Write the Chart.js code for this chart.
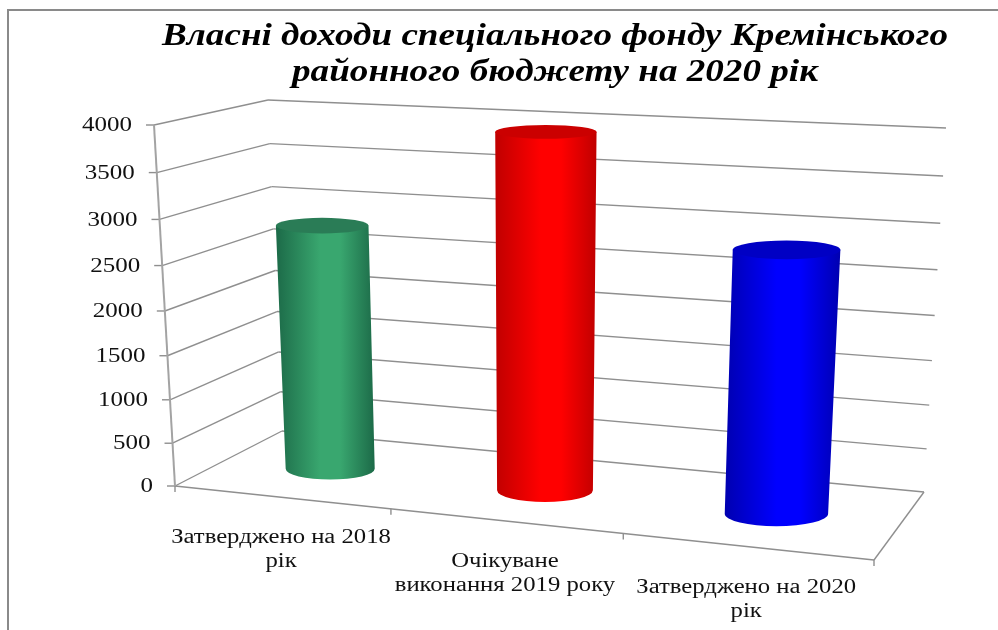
<!DOCTYPE html>
<html>
<head>
<meta charset="utf-8">
<script src="https://cdn.jsdelivr.net/npm/chart.js@4"></script>
<style>
  html, body { margin: 0; padding: 0; background: #fff; overflow: hidden; }
  canvas { display: block; }
</style>
</head>
<body>
<canvas id="budget-chart" width="998" height="630"></canvas>
<script>
const titleLines = ['Власні доходи спеціального фонду Кремінського', 'районного бюджету на 2020 рік'];
const categories = [
  ['Затверджено на 2018', 'рік'],
  ['Очікуване', 'виконання 2019 року'],
  ['Затверджено на 2020', 'рік']
];
const values = [2820, 3960, 2870];
const valueTicks = [0, 500, 1000, 1500, 2000, 2500, 3000, 3500, 4000];

const sideLight = ['#39a76f', '#ff0000', '#0000ff'];
const sideEdge = ['#1c6a48', '#c00000', '#0000b0'];
const capColors = ['#2a7c56', '#cb0000', '#0000c4'];

const gridColor = '#8f8f8f';
const axisColor = '#a3a3a3';
const serif = '"Liberation Serif", serif';

// corners of the 3d box on the page: f = front, b = back, 0 = floor, 1 = top
const box = {
  fl0: [175, 486], fr0: [874, 560], bl0: [282, 431], br0: [924, 492],
  fl1: [154, 125], fr1: [895, 163], bl1: [268, 100], br1: [946, 128]
};

function warp(t, a) {
  return t * a / (1 + (a - 1) * t);
}

function mix(p, q, t) {
  return [p[0] + (q[0] - p[0]) * t, p[1] + (q[1] - p[1]) * t];
}

// u along the categories, w into the depth, v up the values, all 0..1
function project(u, w, v) {
  const a = warp(u, 0.894);
  const b = warp(v, 0.941);
  const floor = mix(mix(box.fl0, box.fr0, a), mix(box.bl0, box.br0, a), w);
  const top = mix(mix(box.fl1, box.fr1, a), mix(box.bl1, box.br1, a), w);
  const p = mix(floor, top, b);
  return { x: p[0], y: p[1] };
}

function line(ctx, p, q) {
  ctx.beginPath();
  ctx.moveTo(p.x, p.y);
  ctx.lineTo(q.x, q.y);
  ctx.stroke();
}

// the reference text is stretched sideways
function wideText(ctx, text, x, y, stretch) {
  ctx.save();
  ctx.translate(x, y);
  ctx.scale(stretch, 1);
  ctx.fillText(text, 0, 0);
  ctx.restore();
}

function drawCylinder(ctx, bar, area, i) {
  const W = area.right - area.left;
  const H = area.bottom - area.top;
  const u = (bar.x - area.left) / W;
  const half = bar.width / 2 / W;
  const v = (area.bottom - bar.y) / H;

  const ring = function (level) {
    const depth = 0.19 + 0.04 * level;
    const c = project(u, 0.5, level);
    return {
      x: c.x,
      y: c.y,
      rx: (project(u + half, 0.5, level).x - project(u - half, 0.5, level).x) / 2,
      ry: Math.abs(project(u, 0.5 + depth, level).y - project(u, 0.5 - depth, level).y) / 2
    };
  };
  const top = ring(v);
  const bottom = ring(0);

  const left = Math.min(top.x - top.rx, bottom.x - bottom.rx);
  const right = Math.max(top.x + top.rx, bottom.x + bottom.rx);
  const grad = ctx.createLinearGradient(left, 0, right, 0);
  grad.addColorStop(0, sideEdge[i]);
  grad.addColorStop(0.45, sideLight[i]);
  grad.addColorStop(0.65, sideLight[i]);
  grad.addColorStop(1, sideEdge[i]);

  ctx.beginPath();
  ctx.moveTo(top.x - top.rx, top.y);
  ctx.lineTo(bottom.x - bottom.rx, bottom.y);
  ctx.ellipse(bottom.x, bottom.y, bottom.rx, bottom.ry, 0, Math.PI, 0, true);
  ctx.lineTo(top.x + top.rx, top.y);
  ctx.closePath();
  ctx.fillStyle = grad;
  ctx.fill();

  ctx.beginPath();
  ctx.ellipse(top.x, top.y, top.rx, top.ry, 0, 0, Math.PI * 2);
  ctx.fillStyle = capColors[i];
  ctx.fill();
}

const box3d = {
  id: 'box3d',
  beforeDraw(chart) {
    // frame of the slide the chart was cut from
    const ctx = chart.ctx;
    ctx.save();
    ctx.fillStyle = '#fff';
    ctx.fillRect(0, 0, chart.width, chart.height);
    ctx.strokeStyle = '#8a8a8a';
    ctx.lineWidth = 2;
    ctx.beginPath();
    ctx.moveTo(8, chart.height);
    ctx.lineTo(8, 10);
    ctx.lineTo(chart.width, 10);
    ctx.stroke();

    ctx.fillStyle = '#000';
    ctx.font = 'italic bold 32px ' + serif;
    ctx.textAlign = 'center';
    ctx.textBaseline = 'middle';
    titleLines.forEach(function (text, n) {
      wideText(ctx, text, 555, 37 + n * 36, 1.16);
    });
    ctx.restore();
  },
  beforeDatasetsDraw(chart) {
    const ctx = chart.ctx;
    const yScale = chart.scales.y;
    const area = chart.chartArea;
    const H = area.bottom - area.top;
    ctx.save();
    ctx.strokeStyle = gridColor;
    ctx.lineWidth = 1.4;

    yScale.ticks.forEach(function (tick) {
      const v = (area.bottom - yScale.getPixelForValue(tick.value)) / H;
      const front = project(0, 0, v);
      const back = project(0, 1, v);
      line(ctx, { x: front.x - 8, y: front.y }, front);
      line(ctx, front, back);
      line(ctx, back, project(1, 1, v));
    });

    line(ctx, project(0, 0, 0), project(1, 0, 0));
    line(ctx, project(1, 0, 0), project(1, 1, 0));

    for (let i = 0; i <= categories.length; i++) {
      const p = project(i / categories.length, 0, 0);
      line(ctx, p, { x: p.x, y: p.y + 6 });
    }

    ctx.strokeStyle = axisColor;
    ctx.lineWidth = 2;
    line(ctx, project(0, 0, 0), project(0, 0, 1));
    ctx.restore();
  },
  beforeDatasetDraw(chart, args) {
    // flat bars are replaced by cylinders
    const ctx = chart.ctx;
    ctx.save();
    args.meta.data.forEach(function (bar, i) {
      drawCylinder(ctx, bar, chart.chartArea, i);
    });
    ctx.restore();
    return false;
  },
  afterDatasetsDraw(chart) {
    const ctx = chart.ctx;
    const xScale = chart.scales.x;
    const yScale = chart.scales.y;
    const area = chart.chartArea;
    ctx.save();
    ctx.fillStyle = '#111';

    ctx.font = '20px ' + serif;
    ctx.textAlign = 'right';
    ctx.textBaseline = 'middle';
    yScale.ticks.forEach(function (tick) {
      const v = (area.bottom - yScale.getPixelForValue(tick.value)) / (area.bottom - area.top);
      const p = project(0, 0, v);
      wideText(ctx, String(tick.value), p.x - 22, p.y + 1, 1.25);
    });

    ctx.textAlign = 'center';
    categories.forEach(function (lines, i) {
      const u = (xScale.getPixelForValue(i) - area.left) / (area.right - area.left);
      const p = project(u, 0, 0);
      lines.forEach(function (text, n) {
        wideText(ctx, text, p.x, p.y + 41 + n * 24, 1.235);
      });
    });
    ctx.restore();
  }
};

new Chart(document.getElementById('budget-chart'), {
  type: 'bar',
  data: {
    labels: categories,
    datasets: [{
      data: values,
      backgroundColor: sideLight,
      barPercentage: 0.43,
      categoryPercentage: 1
    }]
  },
  options: {
    responsive: false,
    animation: false,
    layout: { padding: { top: 90, left: 112 } },
    scales: {
      x: { display: false },
      y: {
        display: false,
        min: 0,
        max: 4000,
        afterBuildTicks(scale) {
          scale.ticks = valueTicks.map(value => ({ value: value }));
        }
      }
    },
    plugins: {
      legend: { display: false },
      tooltip: { enabled: false },
      title: { display: false }
    }
  },
  plugins: [box3d]
});
</script>
</body>
</html>
